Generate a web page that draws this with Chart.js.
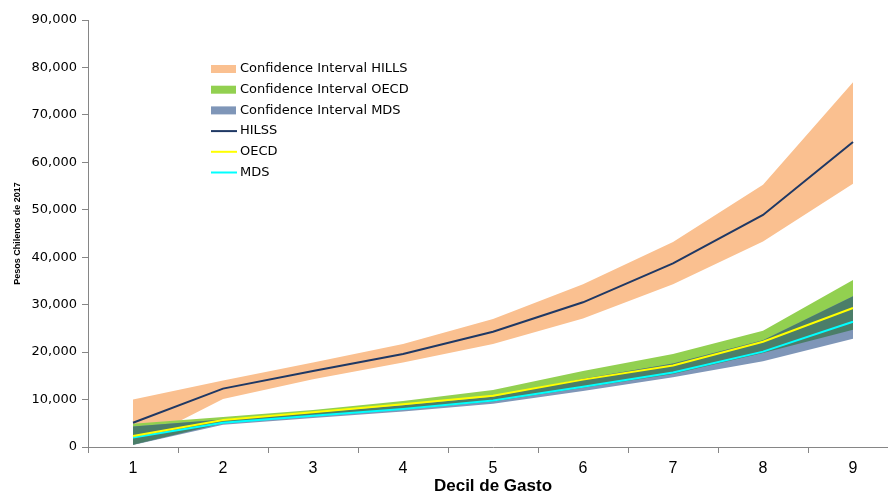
<!DOCTYPE html>
<html>
<head>
<meta charset="utf-8">
<script src="https://cdn.jsdelivr.net/npm/chart.js@4/dist/chart.umd.min.js"></script>
<style>
  html, body { margin: 0; padding: 0; background: #fff; overflow: hidden; }
  #wrap { width: 910px; height: 493px; }
</style>
</head>
<body>
<div id="wrap"><canvas id="grafico"></canvas></div>
<script>
// datos
const deciles = ['1', '2', '3', '4', '5', '6', '7', '8', '9'];

const hilss     = [5100, 12300, 16000, 19600, 24300, 30500, 38700, 48900, 64300];
const hilssLow  = [500, 10100, 14300, 17800, 21700, 27100, 34300, 43300, 55500];
const hilssHigh = [10000, 14000, 17800, 21700, 27000, 34300, 43200, 55300, 76900];

const oecd      = [2300, 5700, 7300, 9000, 10800, 14200, 17200, 22200, 29300];
const oecdLow   = [500, 5000, 6500, 7900, 9600, 12500, 15400, 19800, 24700];
const oecdHigh  = [4900, 6300, 7800, 9700, 12000, 16000, 19600, 24500, 35200];

const mds       = [2000, 5100, 6600, 8000, 9800, 12700, 15700, 20100, 26400];
const mdsLow    = [400, 4700, 6100, 7500, 9100, 11800, 14700, 18100, 22800];
const mdsHigh   = [4300, 5800, 7200, 8800, 10600, 14400, 17600, 22500, 31800];

const yTicks = [0, 10000, 20000, 30000, 40000, 50000, 60000, 70000, 80000, 90000];

// zona donde se cruzan los intervalos OECD y MDS
const overlapLow  = oecdLow.map((v, i) => Math.max(v, mdsLow[i]));
const overlapHigh = oecdHigh.map((v, i) => Math.min(v, mdsHigh[i]));

const colNaranja = '#FAC090';
const colVerde = '#92D050';
const colAzul = '#7F96B8';
const colCruce = '#4B7E69';

function banda(label, data, color, orden, rellenar) {
    return {
        label: label,
        data: data,
        borderWidth: 0,
        borderColor: 'rgba(0,0,0,0)',
        backgroundColor: color,
        pointRadius: 0,
        fill: rellenar ? '-1' : false,
        order: orden
    };
}

function linea(label, data, color) {
    return {
        label: label,
        data: data,
        borderColor: color,
        backgroundColor: color,
        borderWidth: 2,
        pointRadius: 0,
        fill: false,
        tension: 0,
        order: 0
    };
}

const datasets = [
    banda('hillsLow', hilssLow, colNaranja, 10, false),
    banda('Confidence Interval HILLS', hilssHigh, colNaranja, 10, true),
    banda('oecdLow', oecdLow, colVerde, 8, false),
    banda('Confidence Interval OECD', oecdHigh, colVerde, 8, true),
    banda('mdsLow', mdsLow, colAzul, 6, false),
    banda('Confidence Interval MDS', mdsHigh, colAzul, 6, true),
    banda('cruceLow', overlapLow, colCruce, 4, false),
    banda('cruceHigh', overlapHigh, colCruce, 4, true),
    linea('HILSS', hilss, '#1F3864'),
    linea('OECD', oecd, '#FFFF00'),
    linea('MDS', mds, '#00FFFF')
];

// leyenda dibujada a mano dentro del area del grafico
const leyendaItems = [
    { text: 'Confidence Interval HILLS', color: colNaranja, tipo: 'box' },
    { text: 'Confidence Interval OECD', color: colVerde, tipo: 'box' },
    { text: 'Confidence Interval MDS', color: colAzul, tipo: 'box' },
    { text: 'HILSS', color: '#1F3864', tipo: 'line' },
    { text: 'OECD', color: '#FFFF00', tipo: 'line' },
    { text: 'MDS', color: '#00FFFF', tipo: 'line' }
];

const leyendaPlugin = {
    id: 'leyendaManual',
    afterDraw(chart) {
        const ctx = chart.ctx;
        ctx.save();
        ctx.font = '13px "DejaVu Sans"';
        ctx.textBaseline = 'middle';
        leyendaItems.forEach((it, i) => {
            const y = 69 + i * 20.7;
            if (it.tipo === 'box') {
                ctx.fillStyle = it.color;
                ctx.fillRect(211, y - 4, 25, 8);
            } else {
                ctx.strokeStyle = it.color;
                ctx.lineWidth = 2;
                ctx.beginPath();
                ctx.moveTo(211, y);
                ctx.lineTo(237, y);
                ctx.stroke();
            }
            ctx.fillStyle = '#000';
            ctx.fillText(it.text, 240, y);
        });
        ctx.restore();
    }
};

new Chart(document.getElementById('grafico'), {
    type: 'line',
    data: { labels: deciles, datasets: datasets },
    plugins: [leyendaPlugin],
    options: {
        responsive: true,
        maintainAspectRatio: false,
        animation: false,
        layout: { padding: { top: 20, right: 12, left: 0, bottom: 0 } },
        plugins: {
            legend: { display: false },
            tooltip: { enabled: false },
            filler: { propagate: false }
        },
        scales: {
            x: {
                offset: true,
                grid: {
                    offset: true,
                    drawOnChartArea: false,
                    drawTicks: true,
                    tickLength: 6,
                    color: '#868686'
                },
                border: { color: '#868686', width: 1 },
                ticks: {
                    color: '#000',
                    font: { family: 'Liberation Sans', size: 16 },
                    padding: 6
                },
                title: {
                    display: true,
                    text: 'Decil de Gasto',
                    color: '#000',
                    font: { family: 'Liberation Sans', size: 17, weight: 'bold', lineHeight: 0.75 },
                    padding: { top: 0, bottom: 0 }
                },
                afterFit(scale) { scale.height = 46; }
            },
            y: {
                min: 0,
                max: 90000,
                afterBuildTicks(scale) {
                    scale.ticks = yTicks.map(v => ({ value: v }));
                },
                grid: {
                    drawOnChartArea: false,
                    drawTicks: true,
                    tickLength: 6,
                    color: '#868686'
                },
                border: { color: '#868686', width: 1 },
                ticks: {
                    color: '#000',
                    font: { family: 'DejaVu Sans', size: 13 },
                    padding: 5,
                    callback: (v) => v.toLocaleString('en-US')
                },
                title: {
                    display: true,
                    text: 'Pesos Chilenos de 2017',
                    color: '#000',
                    font: { family: 'Liberation Sans', size: 9, weight: 'bold' },
                    padding: { top: 12, bottom: 0 }
                },
                afterFit(scale) { scale.width = 88; }
            }
        }
    }
});
</script>
</body>
</html>
